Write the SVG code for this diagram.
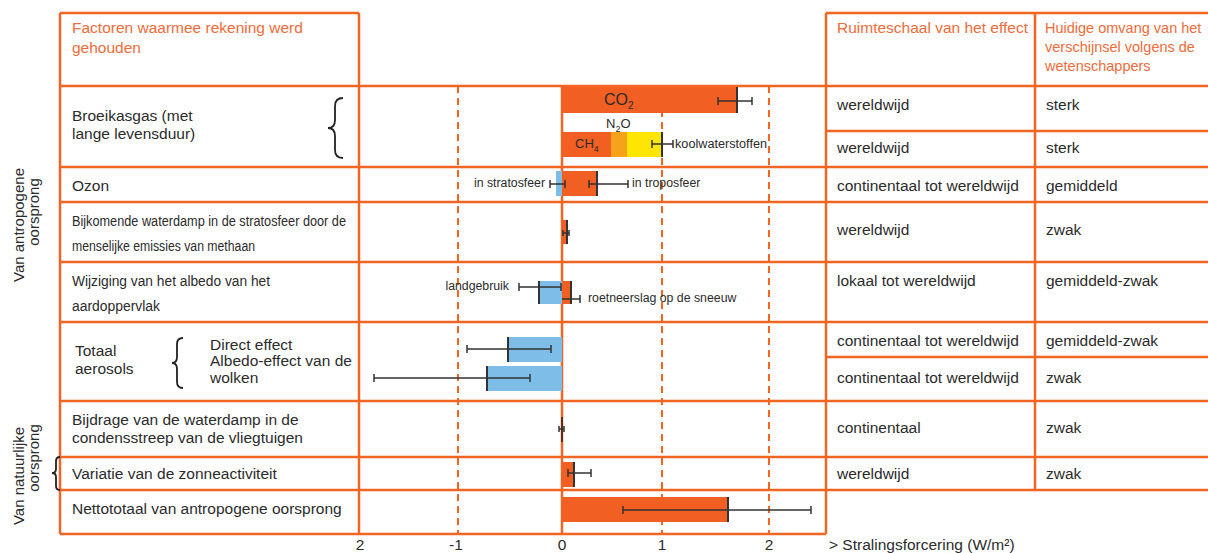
<svg xmlns="http://www.w3.org/2000/svg" width="1208" height="553" viewBox="0 0 1208 553">
<style>
.g{stroke:#F26522;stroke-width:2.5;fill:none}
.d{stroke:#F26522;stroke-width:2;stroke-dasharray:7 5;fill:none}
.t{font-family:"Liberation Sans",Arial,sans-serif;font-size:15.5px;fill:#2b2b2b}
.h{font-family:"Liberation Sans",Arial,sans-serif;font-size:15.5px;fill:#F26B3A}
.hs{font-family:"Liberation Sans",Arial,sans-serif;font-size:14.5px;fill:#F26B3A}
.v{font-family:"Liberation Sans",Arial,sans-serif;font-size:15px;fill:#2b2b2b}
.s{font-family:"Liberation Sans",Arial,sans-serif;font-size:12.3px;fill:#2b2b2b}
.red{fill:#F15F22}
.blue{fill:#7DBDE8}
.tick{stroke:#333;stroke-width:2}
.err{stroke:#333;stroke-width:1.5;fill:none}
.br{stroke:#222;stroke-width:1.8;fill:none}
</style>
<rect width="1208" height="553" fill="#fff"/>
<g id="grid">
<path class="d" d="M458,86V534M662,86V534M769,86V534"/>
<path class="g" d="M60,13H359M826,13H1208M60,86H1208M826,131H1208M60,167H1208M60,202H1208M60,262H1208M60,322H1208M826,357H1208M60,401H1208M60,457H1208M60,490H1208M60,534H826"/>
<path class="g" d="M60,13V534M359,13V534M562,86V534M826,13V534M1035,13V490"/>
</g>
<g id="header">
<text class="h" x="72" y="33">Factoren waarmee rekening werd</text>
<text class="h" x="72" y="53">gehouden</text>
<text class="h" x="837" y="33">Ruimteschaal van het effect</text>
<text class="hs" x="1045" y="33">Huidige omvang van het</text>
<text class="hs" x="1045" y="52">verschijnsel volgens de</text>
<text class="hs" x="1045" y="71">wetenschappers</text>
</g>
<g id="side-labels">
<text class="v" text-anchor="middle" transform="translate(24,225) rotate(-90)">Van antropogene</text>
<text class="v" text-anchor="middle" transform="translate(39,212) rotate(-90)">oorsprong</text>
<text class="v" text-anchor="middle" transform="translate(24,476) rotate(-90)">Van natuurlijke</text>
<text class="v" text-anchor="middle" transform="translate(39,458) rotate(-90)">oorsprong</text>
</g>
<g id="row-broeikasgas">
<text class="t" x="72" y="121">Broeikasgas (met</text>
<text class="t" x="72" y="139">lange levensduur)</text>
<rect class="red" x="562" y="87" width="175" height="26"/>
<line class="tick" x1="737" y1="87" x2="737" y2="113"/>
<path class="err" d="M718,101H752M718,97V105M752,97V105"/>
<text class="t" x="604" y="105" style="font-size:16px">CO<tspan dy="4" style="font-size:10px">2</tspan></text>
<text class="t" x="606" y="128" style="font-size:13px">N<tspan dy="4" style="font-size:9px">2</tspan><tspan dy="-4">O</tspan></text>
<rect class="red" x="562" y="132" width="49" height="25"/>
<rect x="611" y="132" width="16" height="25" fill="#F7A21B"/>
<rect x="627" y="132" width="35" height="25" fill="#FFE600"/>
<line class="tick" x1="662" y1="132" x2="662" y2="157"/>
<path class="err" d="M652,144H673M652,140V148M673,140V148"/>
<text class="t" x="575" y="148" style="font-size:13px">CH<tspan dy="4" style="font-size:9px">4</tspan></text>
<text class="s" x="675" y="148" textLength="92" lengthAdjust="spacingAndGlyphs">koolwaterstoffen</text>
<text class="t" x="837" y="110">wereldwijd</text>
<text class="t" x="1046" y="110">sterk</text>
<text class="t" x="837" y="153">wereldwijd</text>
<text class="t" x="1046" y="153">sterk</text>
</g>
<g id="row-ozon">
<text class="t" x="72" y="191">Ozon</text>
<rect class="blue" x="556" y="171" width="6" height="25"/>
<rect class="red" x="562" y="171" width="35" height="25"/>
<line class="tick" x1="597" y1="171" x2="597" y2="196"/>
<path class="err" d="M550,184H565M550,180V188M565,180V188"/>
<path class="err" d="M589,184H628M589,180V188M628,180V188"/>
<text class="s" x="545" y="187" text-anchor="end">in stratosfeer</text>
<text class="s" x="632" y="187">in troposfeer</text>
<text class="t" x="837" y="191">continentaal tot wereldwijd</text>
<text class="t" x="1046" y="191">gemiddeld</text>
</g>
<g id="row-waterdamp-stratosfeer">
<text class="t" x="72" y="226" textLength="274" lengthAdjust="spacingAndGlyphs">Bijkomende waterdamp in de stratosfeer door de</text>
<text class="t" x="72" y="251" textLength="183" lengthAdjust="spacingAndGlyphs">menselijke emissies van methaan</text>
<rect class="red" x="562" y="220" width="5" height="24"/>
<line class="tick" x1="567" y1="220" x2="567" y2="244"/>
<path class="err" d="M563,233H569M563,230V236M569,230V236"/>
<text class="t" x="837" y="235">wereldwijd</text>
<text class="t" x="1046" y="235">zwak</text>
</g>
<g id="row-albedo">
<text class="t" x="72" y="286" textLength="198" lengthAdjust="spacingAndGlyphs">Wijziging van het albedo van het</text>
<text class="t" x="72" y="311" textLength="88" lengthAdjust="spacingAndGlyphs">aardoppervlak</text>
<rect class="blue" x="539" y="281" width="23" height="23"/>
<line class="tick" x1="539" y1="281" x2="539" y2="304"/>
<rect class="red" x="562" y="281" width="9" height="23"/>
<line class="tick" x1="571" y1="281" x2="571" y2="304"/>
<path class="err" d="M519,287H561M519,283V291M561,283V291"/>
<path class="err" d="M562,299H580M580,295V303"/>
<text class="s" x="509" y="290" text-anchor="end">landgebruik</text>
<text class="s" x="588" y="302">roetneerslag op de sneeuw</text>
<text class="t" x="837" y="286">lokaal tot wereldwijd</text>
<text class="t" x="1046" y="286">gemiddeld-zwak</text>
</g>
<g id="row-aerosols">
<text class="t" x="75" y="356">Totaal</text>
<text class="t" x="75" y="374">aerosols</text>
<text class="t" x="210" y="350">Direct effect</text>
<text class="t" x="210" y="366">Albedo-effect van de</text>
<text class="t" x="210" y="383">wolken</text>
<rect class="blue" x="508" y="337" width="54" height="25"/>
<line class="tick" x1="508" y1="337" x2="508" y2="362"/>
<path class="err" d="M467,349H551M467,345V353M551,345V353"/>
<rect class="blue" x="487" y="366" width="75" height="25"/>
<line class="tick" x1="487" y1="366" x2="487" y2="391"/>
<path class="err" d="M374,378H530M374,374V382M530,374V382"/>
<text class="t" x="837" y="346">continentaal tot wereldwijd</text>
<text class="t" x="1046" y="346">gemiddeld-zwak</text>
<text class="t" x="837" y="383">continentaal tot wereldwijd</text>
<text class="t" x="1046" y="383">zwak</text>
</g>
<g id="row-condensstreep">
<text class="t" x="72" y="425">Bijdrage van de waterdamp in de</text>
<text class="t" x="72" y="443">condensstreep van de vliegtuigen</text>
<line x1="562" y1="417" x2="562" y2="442" stroke="#5a2e1e" stroke-width="2"/>
<path class="err" d="M559,429H564M559,426V432M564,426V432"/>
<text class="t" x="837" y="433">continentaal</text>
<text class="t" x="1046" y="433">zwak</text>
</g>
<g id="row-zonneactiviteit">
<text class="t" x="72" y="479">Variatie van de zonneactiviteit</text>
<rect class="red" x="562" y="462" width="12" height="25"/>
<line class="tick" x1="574" y1="462" x2="574" y2="487"/>
<path class="err" d="M568,473H591M568,469V477M591,469V477"/>
<text class="t" x="837" y="479">wereldwijd</text>
<text class="t" x="1046" y="479">zwak</text>
</g>
<g id="row-netto">
<text class="t" x="72" y="514">Nettototaal van antropogene oorsprong</text>
<rect class="red" x="562" y="497" width="166" height="25"/>
<line class="tick" x1="728" y1="497" x2="728" y2="522"/>
<path class="err" d="M623,510H811M623,506V514M811,506V514"/>
</g>
<g id="axis">
<text class="t" x="360" y="550" text-anchor="middle">2</text>
<text class="t" x="456" y="550" text-anchor="middle">-1</text>
<text class="t" x="562" y="550" text-anchor="middle">0</text>
<text class="t" x="662" y="550" text-anchor="middle">1</text>
<text class="t" x="769" y="550" text-anchor="middle">2</text>
<text class="t" x="829" y="550">&gt; Stralingsforcering (W/m²)</text>
</g>
<g id="connectors">
<path class="br" d="M343,98Q335,98 335,106V120Q335,128 328,128Q335,128 335,136V150Q335,158 343,158"/>
<path class="br" d="M183,338Q177,338 177,344V357Q177,363 172,363Q177,363 177,369V382Q177,388 183,388"/>
<path class="br" stroke-width="1.3" d="M60,457Q56,457 56,461V469Q56,473 52,473Q56,473 56,477V486Q56,490 60,490"/>
</g>
</svg>
